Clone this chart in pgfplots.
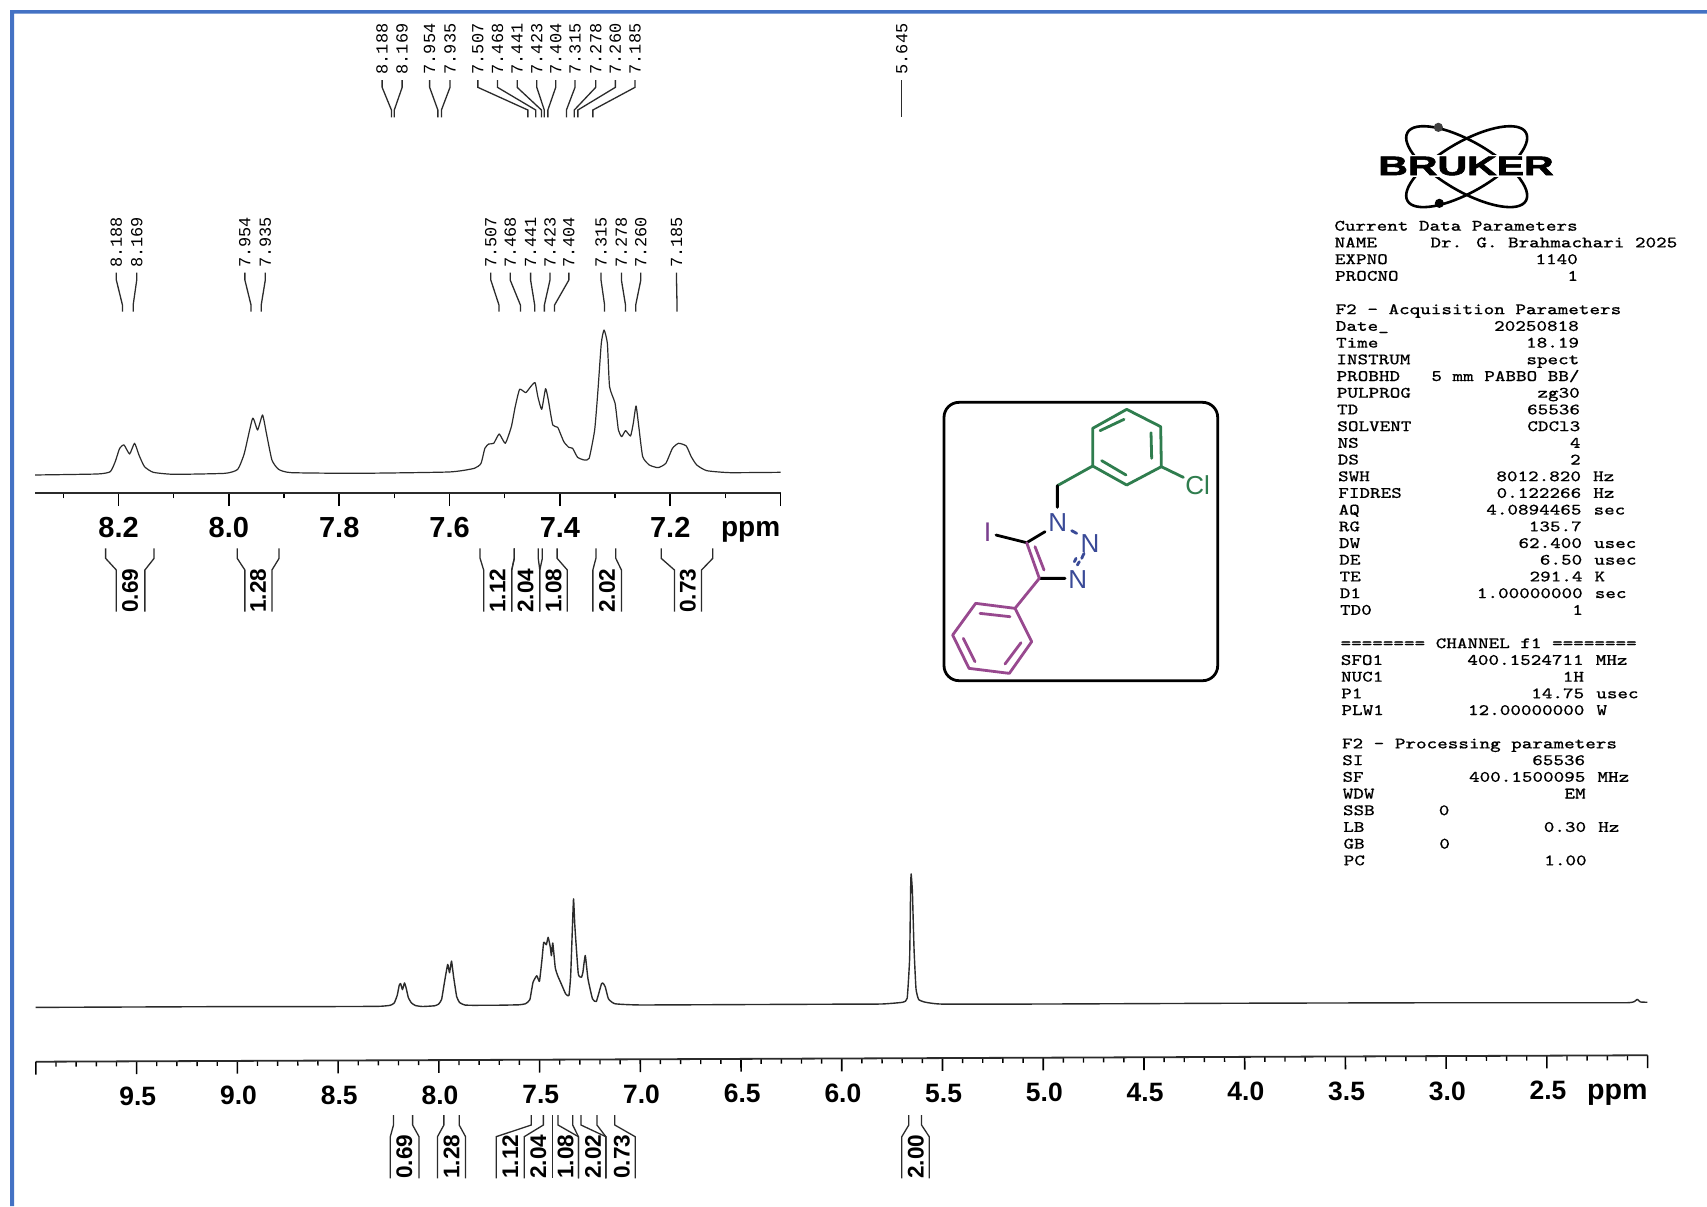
\documentclass[border=0pt]{standalone}
\usepackage{pgfplots}
\pgfplotsset{compat=1.18}
\usepackage{fontspec}
\setmainfont{Liberation Sans}
\newfontfamily\pkmono{Liberation Mono}
\newfontfamily\parmono[FakeBold=0.3,FakeStretch=1.245]{Latin Modern Mono}
\definecolor{frameblue}{HTML}{4472C4}
\definecolor{molgreen}{HTML}{2F7D4E}
\definecolor{molpurple}{HTML}{98498F}
\definecolor{molviolet}{HTML}{7A3F8E}
\definecolor{molblue}{HTML}{3A4A97}
\definecolor{spec}{HTML}{2B2B2B}
\newcommand\fs[1]{\fontsize{#1}{#1}\selectfont}
\pgfplotsset{nmr/.style={
  scale only axis, clip=false, x dir=reverse,
  axis x line*=bottom, axis y line=none, axis line style={line width=0.9pt,-,spec},
  tick align=outside, xtick pos=bottom,
  major tick style={line width=0.8pt,black}, minor tick style={line width=0.7pt,black},
  major tick length=6.4pt, minor tick length=2.5pt,
  ymin=0,ymax=600,height=100pt}}
\begin{document}
\begin{tikzpicture}
\path[use as bounding box,fill=white] (0pt,0pt) rectangle (853.5pt,-603pt);
\fill[frameblue] (5pt,-603pt) -- (5pt,-5pt) -- (853.5pt,-5pt) -- (853.5pt,-6.8pt) -- (7pt,-6.8pt) -- (7pt,-603pt) -- cycle;

% ---------- inset ----------
\begin{axis}[nmr, at={(17.35pt,-246.65pt)}, anchor=south west, width=372.95pt,
  xmin=7.0,xmax=8.352,
  xtick={7.2,7.4,7.6,7.8,8.0,8.2}, xticklabels={7.2,7.4,7.6,7.8,8.0,8.2},
  extra x ticks={7.0}, extra x tick labels={},
  minor xtick={7.1,7.3,7.5,7.7,7.9,8.1,8.3},
  xticklabel style={font=\bfseries\fs{14.5}, anchor=base, yshift=-15.7pt}]
\addplot[spec,line width=0.6pt,line join=round,smooth,tension=0.3] coordinates {
(8.351,55)(8.238,58)(8.215,65)(8.206,95)(8.198,135)(8.190,145)(8.180,118)(8.171,150)(8.163,115)(8.153,80)
(8.137,63)(8.100,57)(8.007,60)(7.984,72)(7.972,120)(7.957,225)(7.948,190)(7.939,235)(7.932,180)(7.922,100)
(7.910,72)(7.887,62)(7.767,60)(7.601,64)(7.555,75)(7.543,90)(7.536,135)(7.529,148)(7.520,150)(7.510,178)
(7.499,150)(7.488,200)(7.481,260)(7.473,312)(7.462,302)(7.453,320)(7.445,332)(7.440,290)(7.433,252)(7.426,314)
(7.421,280)(7.413,205)(7.404,198)(7.393,155)(7.384,138)(7.377,135)(7.368,108)(7.356,100)(7.347,105)(7.337,190)
(7.331,310)(7.325,450)(7.320,490)(7.314,450)(7.310,320)(7.300,270)(7.294,190)(7.288,170)(7.281,188)(7.272,172)
(7.267,210)(7.262,262)(7.257,200)(7.250,110)(7.238,85)(7.222,77)(7.208,90)(7.196,135)(7.185,150)(7.171,142)
(7.162,110)(7.152,85)(7.134,68)(7.092,62)(7.000,63)};
\end{axis}

% ---------- main spectrum ----------
\begin{scope}[rotate around={0.23:(17.95pt,-530.85pt)}]
\begin{axis}[nmr, at={(17.95pt,-530.85pt)}, anchor=south west, width=805.9pt,
  xmin=2,xmax=10,
  xtick={2.5,3,3.5,4,4.5,5,5.5,6,6.5,7,7.5,8,8.5,9,9.5},
  xticklabels={2.5,3.0,3.5,4.0,4.5,5.0,5.5,6.0,6.5,7.0,7.5,8.0,8.5,9.0,9.5},
  extra x ticks={2,10}, extra x tick labels={},
  minor xtick={2.1,2.2,2.3,2.4,2.6,2.7,2.8,2.9,3.1,3.2,3.3,3.4,3.6,3.7,3.8,3.9,4.1,4.2,4.3,4.4,4.6,4.7,4.8,4.9,5.1,5.2,5.3,5.4,5.6,5.7,5.8,5.9,6.1,6.2,6.3,6.4,6.6,6.7,6.8,6.9,7.1,7.2,7.3,7.4,7.6,7.7,7.8,7.9,8.1,8.2,8.3,8.4,8.6,8.7,8.8,8.9,9.1,9.2,9.3,9.4,9.6,9.7,9.8,9.9},
  xticklabel style={font=\bfseries\fs{13.25}, anchor=base, yshift=-15.6pt, xshift=0.5pt}]
\addplot[spec,line width=0.7pt,line join=round,smooth,tension=0.25] coordinates {
(10.0,163)(9.6,163)(9.0,163)(8.6,162)(8.3,162)(8.24,165)(8.22,172)(8.205,195)(8.195,225)(8.188,230)
(8.179,212)(8.169,232)(8.16,215)(8.15,188)(8.135,172)(8.115,164)(8.08,161)(8.02,163)(8.0,168)(7.985,182)
(7.97,235)(7.954,287)(7.945,262)(7.935,297)(7.925,250)(7.91,190)(7.895,172)(7.87,165)(7.83,164)(7.7,164)
(7.6,165)(7.569,168)(7.547,180)(7.531,232)(7.512,252)(7.499,235)(7.486,300)(7.477,352)(7.464,345)(7.455,367)
(7.445,340)(7.439,312)(7.432,350)(7.420,275)(7.407,250)(7.394,232)(7.369,197)(7.353,192)(7.344,250)(7.334,400)
(7.328,482)(7.322,400)(7.306,257)(7.290,247)(7.283,262)(7.271,312)(7.258,242)(7.236,182)(7.217,174)(7.191,227)
(7.182,228)(7.172,217)(7.157,182)(7.125,167)(7.0,163)(6.5,163)(6.0,163)(5.8,163)(5.696,168)(5.674,180)
(5.661,300)(5.655,500)(5.652,553)(5.646,500)(5.639,328)(5.630,208)(5.617,176)(5.585,168)(5.5,162)(5.0,161)
(4.0,161)(3.0,160)(2.2,158)(2.09,158)(2.065,161)(2.05,168)(2.035,160)(2.0,159)};
\end{axis}
\end{scope}

% ---------- ppm labels ----------
\node[anchor=base east,inner sep=0pt,font=\bfseries\fs{14}] at (390.3pt,-268pt) {ppm};
\node[anchor=base east,inner sep=0pt,font=\bfseries\fs{14.3}] at (823.9pt,-549.7pt) {ppm};

% ---------- inset annotations (coordinates of the crop) ----------
\begin{scope}[x=0.2551pt,y=-0.16667pt,shift={(0pt,-100pt)},line width=0.65pt,spec]
\foreach \a/\b/\t in {228/240/8.188,268/261/8.169,480/492/7.954,520/512/7.935,962/978/7.507,1000/1020/7.468,1040/1048/7.441,1078/1067/7.423,1115/1087/7.404,1178/1185/7.315,1218/1226/7.278,1256/1246/7.260,1326/1327/7.185}{
  \draw (\a,218) -- (\a,240) -- (\b,315) -- (\b,335);
  \node[rotate=90,anchor=west,inner sep=0pt,font=\pkmono\fs{8.45},text=black] at (\a,205) {\t};
}
\foreach \ta/\ba/\tb/\bb/\tx/\l in {207/228/302/284/255/0.69,465/480/547/533/506/1.28,941/948/1008/1003/975/1.12,1008/1003/1055/1058/1030/2.04,1063/1058/1092/1112/1085/1.08,1168/1162/1207/1218/1190/2.02,1296/1322/1397/1375/1348/0.73}{
  \draw (\ta,1045) -- (\ta,1075) -- (\ba,1110) -- (\ba,1235);
  \draw (\tb,1045) -- (\tb,1075) -- (\bb,1110) -- (\bb,1235);
  \node[rotate=90,inner sep=0pt,font=\bfseries\fs{11.3},text=black] at (\tx,1172) {\l};
}
\end{scope}

% ---------- top labels ----------
\begin{scope}[x=0.17857pt,y=-0.16667pt,shift={(180pt,0pt)},line width=0.65pt,spec]
\foreach \a/\b/\t in {62/88/8.188,118/96/8.169,195/218/7.954,252/228/7.935,330/470/7.507,385/492/7.468,440/508/7.441,495/516/7.423,548/526/7.404,602/578/7.315,660/600/7.278,715/610/7.260,770/652/7.185}{
  \draw (\a,240) -- (\a,262) -- (\b,330) -- (\b,352);
  \node[rotate=90,anchor=west,inner sep=0pt,font=\pkmono\fs{8.45},text=black] at (\a,225) {\t};
}
\draw (1517,240) -- (1517,352);
\node[rotate=90,anchor=west,inner sep=0pt,font=\pkmono\fs{8.45},text=black] at (1517,225) {5.645};
\end{scope}

% ---------- main integrals ----------
\begin{scope}[x=0.31888pt,y=-0.16667pt,shift={(0pt,-430pt)},line width=0.65pt,spec]
\foreach \t/\b in {617/612,647/657,696/686,720/730,833/778,852/822,866/866,875/907,898/907,911/950,936/950,964/996,1425/1414,1445/1457}{
  \draw (\t,765) -- (\t,795) -- (\b,830) -- (\b,955);
}
\foreach \x/\l in {634/0.69,708/1.28,800/1.12,844/2.04,887/1.08,930/2.02,975/0.73,1436/2.00}{
  \node[rotate=90,inner sep=0pt,font=\bfseries\fs{11.3},text=black] at (\x,890) {\l};
}
\end{scope}

% ---------- structure ----------
\begin{scope}[x=0.16667pt,y=-0.16667pt,shift={(460pt,-195pt)},line cap=round,line join=round,line width=1.4pt]
\draw[black,line width=1.4pt,rounded corners=7.5pt] (72,37) rectangle (893,872);
\draw[molgreen] (620,58) -- (722,110) -- (724,230) -- (620,285) -- (518,228) -- (518,115) -- cycle;
\draw[molgreen] (540,122) -- (612,88) (693,128) -- (695,205) (545,212) -- (618,255);
\draw[molgreen] (518,228) -- (412,287) (724,230) -- (790,262);
\draw[black] (412,287) -- (412,352) (375,425) -- (320,458) (228,435) -- (320,458) (358,565) -- (435,565);
\draw[molpurple] (320,458) -- (358,565) (345,470) -- (372,540) (358,565) -- (285,655);
\draw[molpurple] (285,655) -- (167,640) -- (98,735) -- (147,835) -- (268,850) -- (335,755) -- cycle;
\draw[molpurple] (180,670) -- (270,680) (130,745) -- (165,815) (255,822) -- (303,758);
\draw[molblue] (455,422) -- (470,430) (492,490) -- (485,505) (478,515) -- (472,525) (468,505) -- (463,515);
\node[molgreen,font=\fs{13}] at (833,285) {Cl};
\node[molblue,font=\fs{13}] at (413,397) {N};
\node[molblue,font=\fs{13}] at (510,462) {N};
\node[molblue,font=\fs{13}] at (473,570) {N};
\node[molviolet,font=\fs{13.5}] at (203,427) {I};
\end{scope}

% ---------- logo ----------
\begin{scope}[x=0.16667pt,y=-0.16667pt,shift={(655pt,-55pt)}]
\draw[black,line width=1.3pt,rotate around={-30:(470,170)}] (470,170) ellipse [x radius=205,y radius=75];
\draw[black,line width=1.3pt,rotate around={30:(470,170)}] (470,170) ellipse [x radius=205,y radius=75];
\node[fill=white,inner sep=0.6pt,font=\bfseries\fs{13.4},xscale=1.53] at (468,168) {\textcolor{white}{BRUKER}};
\node[inner sep=0pt,font=\bfseries\fs{13.4},xscale=1.53,text=black] at (468,168) {\addfontfeatures{FakeBold=2}BRUKER};
\fill[black!75] (385,52) circle (2.3pt);
\fill[black] (388,280) circle (2.3pt);
\end{scope}

% ---------- parameters ----------
\begin{scope}[x=0.5pt,y=-0.5pt]
\newcommand\pl[4]{%
  \node[anchor=base west,inner sep=0pt] at ({1334+0.245*#1},{230.7+16.7*#1}) {\parmono\fs{8}#2};
  \node[anchor=base east,inner sep=0pt] at ({1334+0.245*#1+243.7},{230.7+16.7*#1}) {\parmono\fs{8}#3};
  \node[anchor=base west,inner sep=0pt] at ({1334+0.245*#1+255},{230.7+16.7*#1}) {\parmono\fs{8}#4};}
\newcommand\pc[3]{\node[anchor=base west,inner sep=0pt] at ({1334+0.245*#1+10.65*#2},{230.7+16.7*#1}) {\parmono\fs{8}#3};}
\pc{0}{0}{Current Data Parameters}
\pc{1}{0}{NAME}\pc{1}{9}{Dr. G. Brahmachari 2025}
\pl{2}{EXPNO}{1140}{}
\pl{3}{PROCNO}{1}{}
\pc{5}{0}{F2 - Acquisition Parameters}
\pl{6}{Date\_}{20250818}{}
\pl{7}{Time}{18.19}{}
\pl{8}{INSTRUM}{spect}{}
\pl{9}{PROBHD}{5 mm PABBO BB/}{}
\pl{10}{PULPROG}{zg30}{}
\pl{11}{TD}{65536}{}
\pl{12}{SOLVENT}{CDCl3}{}
\pl{13}{NS}{4}{}
\pl{14}{DS}{2}{}
\pl{15}{SWH}{8012.820}{Hz}
\pl{16}{FIDRES}{0.122266}{Hz}
\pl{17}{AQ}{4.0894465}{sec}
\pl{18}{RG}{135.7}{}
\pl{19}{DW}{62.400}{usec}
\pl{20}{DE}{6.50}{usec}
\pl{21}{TE}{291.4}{K}
\pl{22}{D1}{1.00000000}{sec}
\pl{23}{TD0}{1}{}
\pc{25}{0}{======== CHANNEL f1 ========}
\pl{26}{SFO1}{400.1524711}{MHz}
\pl{27}{NUC1}{1H}{}
\pl{28}{P1}{14.75}{usec}
\pl{29}{PLW1}{12.00000000}{W}
\pc{31}{0}{F2 - Processing parameters}
\pl{32}{SI}{65536}{}
\pl{33}{SF}{400.1500095}{MHz}
\pl{34}{WDW}{EM}{}
\pc{35}{0}{SSB}\pc{35}{9}{0}
\pl{36}{LB}{0.30}{Hz}
\pc{37}{0}{GB}\pc{37}{9}{0}
\pl{38}{PC}{1.00}{}
\end{scope}
\end{tikzpicture}
\end{document}
